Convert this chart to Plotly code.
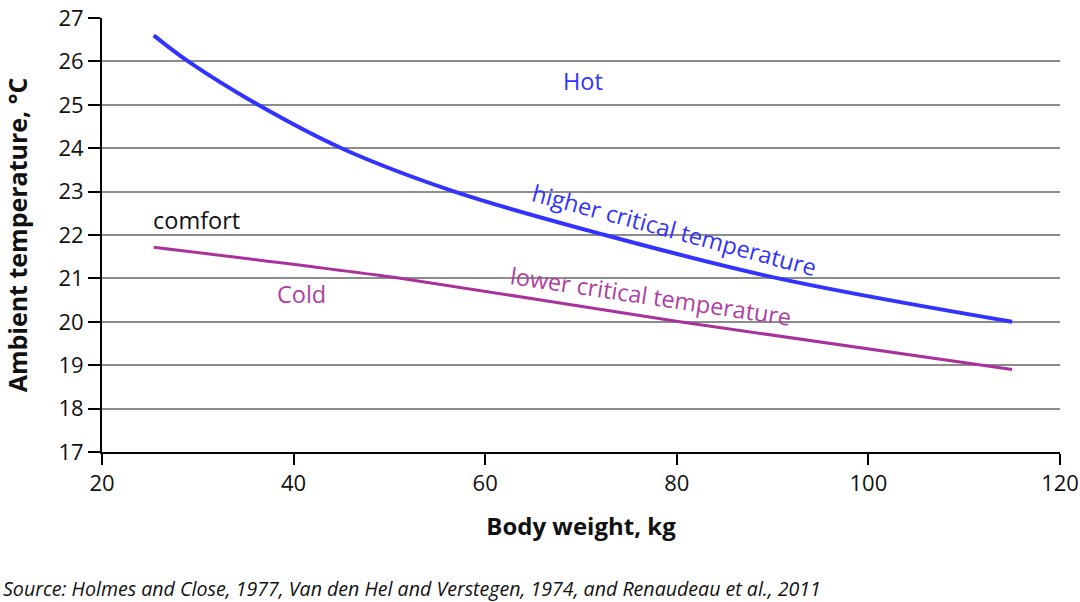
import plotly.graph_objects as go

# Data
weight_hct = [25.4, 29.0, 36.3, 45.0, 56.8, 72.5, 90.6, 115.0]
temp_hct = [26.6, 26.0, 25.0, 24.0, 23.0, 22.0, 21.0, 20.0]

weight_lct = [25.4, 51.3, 80.3, 115.0]
temp_lct = [21.72, 21.0, 20.0, 18.9]

x_ticks = [20, 40, 60, 80, 100, 120]
y_ticks = list(range(17, 28))

BLUE = "#3333ff"
PURPLE = "#a8329a"
PURPLE_TXT = "#b040a0"
FONT = "Open Sans"
TXT = "#111111"

fig = go.Figure()
fig.add_trace(go.Scatter(x=weight_hct, y=temp_hct, mode="lines",
                         line=dict(color=BLUE, width=4, shape="spline", smoothing=1.0),
                         showlegend=False, hoverinfo="skip"))
fig.add_trace(go.Scatter(x=weight_lct, y=temp_lct, mode="lines",
                         line=dict(color=PURPLE, width=3, shape="spline", smoothing=0.6),
                         showlegend=False, hoverinfo="skip"))

ann = [
    dict(text="Hot", x=70.2, y=25.55, color=BLUE, angle=0),
    dict(text="comfort", x=29.9, y=22.35, color=TXT, angle=0),
    dict(text="Cold", x=40.8, y=20.64, color=PURPLE_TXT, angle=0),
    dict(text="higher critical temperature", x=79.8, y=22.12, color=BLUE, angle=15),
    dict(text="lower critical temperature", x=77.3, y=20.6, color=PURPLE_TXT, angle=8.5),
]
for a in ann:
    fig.add_annotation(text=a["text"], x=a["x"], y=a["y"], xref="x", yref="y",
                       showarrow=False, textangle=a["angle"],
                       font=dict(family=FONT, size=23.5, color=a["color"]))

fig.add_annotation(text="<i>Source: Holmes and Close, 1977, Van den Hel and Verstegen, 1974, and Renaudeau et al., 2011</i>",
                   xref="paper", yref="paper", x=-101 / 958, y=-(588 - 452) / 434, xanchor="left", yanchor="middle",
                   showarrow=False, font=dict(family=FONT, size=19.6, color=TXT))

fig.update_xaxes(range=[20, 120], tickvals=x_ticks, showgrid=False, automargin=False,
                 showline=True, linecolor="#000000", linewidth=2,
                 ticks="outside", ticklen=11, tickwidth=2, tickcolor="#000000",
                 tickfont=dict(family=FONT, size=22, color=TXT),
                 title=dict(text="<b>Body weight, kg</b>", font=dict(family=FONT, size=24, color=TXT), standoff=22),
                 zeroline=False)
fig.update_yaxes(range=[17, 27], tickvals=y_ticks, showgrid=True, gridcolor="#8c8c8c", gridwidth=2,
                 automargin=False,
                 showline=True, linecolor="#000000", linewidth=2,
                 ticks="outside", ticklen=12, tickwidth=2, tickcolor="#000000",
                 tickfont=dict(family=FONT, size=22, color=TXT),
                 title=dict(text="<b>Ambient temperature, °C</b>", font=dict(family=FONT, size=25, color=TXT), standoff=33),
                 zeroline=False)

fig.update_layout(width=1080, height=602, margin=dict(l=102, r=20, t=18, b=150, autoexpand=False),
                  plot_bgcolor="white", paper_bgcolor="white", font=dict(family=FONT))

fig.write_html("out.html", config={"displayModeBar": False},
               post_script="document.body.style.margin='0';document.body.style.overflow='hidden';")
